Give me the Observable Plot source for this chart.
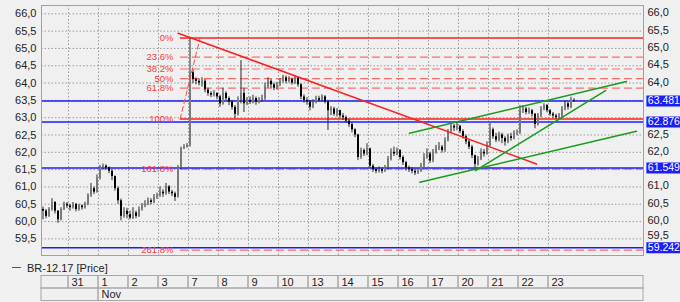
<!DOCTYPE html>
<html><head><meta charset="utf-8">
<script src="https://cdn.jsdelivr.net/npm/d3@7"></script>
<script src="https://cdn.jsdelivr.net/npm/@observablehq/plot@0.6"></script>
<style>
html,body{margin:0;padding:0;background:#f0f0f0;}
body{width:680px;height:302px;overflow:hidden;font-family:"Liberation Sans",Arial,sans-serif;}
#legend{height:15px;font-size:11px;color:#222;padding-left:12px;display:flex;align-items:center;box-sizing:border-box;}
#legend .sw{display:inline-block;width:9px;height:1.5px;background:#555;margin-right:6px;}
svg{display:block}
</style></head><body>
<div id="chart"></div>
<div id="legend"><span class="sw"></span>BR-12.17 [Price]</div>
<div id="strip"></div>
<script>
// ---- data ----
const dayLabels  = ["", "31", "1", "2", "3", "7", "8", "9", "10", "13", "14", "15", "16", "17", "20", "21", "22", "23"];
const barsPerDay = [9, 10, 10, 10, 10, 10, 10, 10, 10, 10, 10, 10, 10, 10, 10, 10, 10, 9];
const monthLabels = ["", "Nov"];
const monthStartDay = [0, 2];

const opens = [
60.35,60.30,60.15,60.35,60.55,60.30,60.05,60.35,60.50,
60.45,60.40,60.50,60.35,60.45,60.40,60.50,60.75,60.95,60.85,
61.25,61.55,61.60,61.55,61.45,61.30,60.95,60.60,60.15,60.30,
60.20,60.10,60.25,60.15,60.35,60.45,60.50,60.60,60.55,60.70,
60.75,60.85,60.80,61.00,60.85,60.80,60.70,61.55,62.10,62.15,
62.20,64.30,64.10,64.05,64.00,64.05,63.80,63.70,63.65,63.70,
63.60,63.40,63.70,63.55,63.45,63.30,63.10,63.50,63.70,63.40,
63.50,63.45,63.55,63.45,63.50,63.55,63.90,64.05,63.95,63.85,
63.95,64.05,64.15,64.05,64.10,64.00,64.15,63.95,63.60,63.50,
63.45,63.30,63.45,63.55,63.50,63.60,63.45,63.20,63.25,63.10,
63.20,63.05,63.00,62.90,62.80,62.65,62.50,61.85,62.05,61.95,
62.10,61.60,61.50,61.45,61.50,61.45,61.55,61.80,62.00,61.95,
62.05,61.85,61.70,61.55,61.50,61.45,61.40,61.45,61.60,61.85,
61.95,61.75,62.00,62.10,62.15,62.05,62.35,62.60,62.75,62.70,
62.75,62.60,62.45,62.30,62.15,61.90,61.65,61.80,62.00,61.95,
62.20,62.65,62.45,62.35,62.50,62.40,62.30,62.45,62.40,62.55,
62.55,63.20,63.25,63.15,63.20,63.10,62.80,63.05,63.25,63.35,
63.20,63.10,63.05,63.00,63.05,63.25,63.40,63.30,63.50];
const highs = [
60.42,60.35,60.40,60.66,60.58,60.32,60.40,60.56,60.55,
60.50,60.55,60.52,60.50,60.48,60.56,60.80,61.10,61.00,61.35,
61.62,61.66,61.64,61.58,61.50,61.32,61.00,60.65,60.40,60.38,
60.30,60.40,60.30,60.42,60.52,60.60,60.68,60.66,60.78,60.82,
61.00,60.92,61.10,61.04,60.90,60.85,61.62,62.15,62.22,62.25,
65.32,64.38,64.15,64.10,64.15,64.10,63.85,63.75,63.78,63.72,
63.65,63.85,63.75,63.60,63.50,63.35,63.60,64.65,63.85,63.58,
63.60,63.65,63.60,63.58,63.65,64.00,64.15,64.10,64.00,64.02,
64.12,64.22,64.20,64.18,64.14,64.22,64.18,63.98,63.66,63.58,
63.50,63.52,63.62,63.62,63.66,63.64,63.50,63.32,63.30,63.26,
63.22,63.12,63.05,62.95,62.85,62.68,62.52,62.12,62.10,62.25,
62.12,61.65,61.55,61.58,61.55,61.62,61.88,62.10,62.15,62.12,
62.08,61.90,61.74,61.60,61.56,61.50,61.52,61.68,61.96,62.10,
62.00,62.08,62.20,62.28,62.20,62.42,62.66,62.82,62.80,62.85,
62.78,62.65,62.50,62.35,62.20,61.92,61.88,62.10,62.08,62.30,
62.83,62.70,62.55,62.58,62.55,62.45,62.52,62.55,62.62,62.65,
63.35,63.35,63.30,63.28,63.24,63.12,63.12,63.32,63.40,63.38,
63.24,63.15,63.10,63.12,63.32,63.48,63.45,63.59,63.55];
const lows = [
60.05,60.08,60.12,60.30,60.22,59.95,60.02,60.32,60.38,
60.30,60.36,60.28,60.30,60.33,60.36,60.46,60.70,60.78,60.82,
61.20,61.48,61.48,61.38,61.18,60.88,60.50,60.02,60.10,60.08,
60.05,60.06,60.08,60.12,60.30,60.40,60.46,60.48,60.52,60.64,
60.70,60.70,60.76,60.78,60.72,60.58,60.68,61.50,62.08,62.12,
62.15,63.98,63.95,63.92,63.88,63.72,63.62,63.58,63.60,63.52,
63.30,63.36,63.48,63.35,63.22,62.97,63.05,63.40,63.15,63.35,
63.38,63.40,63.36,63.40,63.45,63.50,63.85,63.85,63.78,63.80,
63.90,64.00,63.98,64.00,63.94,63.96,63.88,63.52,63.42,63.36,
63.20,63.26,63.40,63.44,63.46,63.40,62.63,63.06,63.04,63.02,
62.98,62.92,62.84,62.72,62.56,62.42,61.76,61.80,61.88,61.90,
61.55,61.42,61.38,61.40,61.38,61.42,61.50,61.75,61.88,61.90,
61.78,61.62,61.46,61.42,61.38,61.33,61.36,61.42,61.56,61.80,
61.68,61.70,61.95,62.05,61.98,62.00,62.30,62.55,62.60,62.62,
62.54,62.38,62.22,62.08,61.82,61.55,61.60,61.76,61.86,61.92,
62.15,62.38,62.28,62.30,62.25,62.18,62.25,62.32,62.36,62.48,
62.52,63.12,63.08,63.10,63.02,62.68,62.76,63.00,63.20,63.14,
63.04,62.98,62.95,62.96,63.00,63.20,63.22,63.26,63.44];
const closes = [
60.30,60.15,60.35,60.55,60.30,60.05,60.35,60.50,60.45,
60.40,60.50,60.35,60.45,60.40,60.50,60.75,60.95,60.85,61.25,
61.55,61.60,61.55,61.45,61.30,60.95,60.60,60.15,60.30,60.20,
60.10,60.25,60.15,60.35,60.45,60.50,60.60,60.55,60.70,60.75,
60.85,60.80,61.00,60.85,60.80,60.70,61.55,62.10,62.15,62.20,
64.30,64.10,64.05,64.00,64.05,63.80,63.70,63.65,63.70,63.60,
63.40,63.70,63.55,63.45,63.30,63.10,63.50,63.70,63.40,63.50,
63.45,63.55,63.45,63.50,63.55,63.90,64.05,63.95,63.85,63.95,
64.05,64.15,64.05,64.10,64.00,64.15,63.95,63.60,63.50,63.45,
63.30,63.45,63.55,63.50,63.60,63.45,63.20,63.25,63.10,63.20,
63.05,63.00,62.90,62.80,62.65,62.50,61.85,62.05,61.95,62.10,
61.60,61.50,61.45,61.50,61.45,61.55,61.80,62.00,61.95,62.05,
61.85,61.70,61.55,61.50,61.45,61.40,61.45,61.60,61.85,61.95,
61.75,62.00,62.10,62.15,62.05,62.35,62.60,62.75,62.70,62.75,
62.60,62.45,62.30,62.15,61.90,61.65,61.80,62.00,61.95,62.20,
62.65,62.45,62.35,62.50,62.40,62.30,62.45,62.40,62.55,62.55,
63.20,63.25,63.15,63.20,63.10,62.80,63.05,63.25,63.35,63.20,
63.10,63.05,63.00,63.05,63.25,63.40,63.30,63.50,63.48];

const yTicks = [59.5, 60.0, 60.5, 61.0, 61.5, 62.0, 62.5, 63.0, 63.5, 64.0, 64.5, 65.0, 65.5, 66.0];
const blueLevels = [63.481, 62.876, 61.549, 59.242];
const fibHigh = 65.30, fibLow = 62.96;
const fibRatios = [0, 23.6, 38.2, 50, 61.8, 100, 161.8, 261.8];
const fibStart = 45.8;       // bar index where the Fibonacci levels begin
const fibDiag = [{i: 45.7, p: 62.96}, {i: 52.4, p: 65.32}];
const redTrend = [{i: 45.07, p: 65.44}, {i: 164.5, p: 61.665}];
const greenUpper = [{i: 122.17, p: 62.549}, {i: 194.5, p: 64.043}];
const greenLower = [{i: 125.6, p: 61.133}, {i: 197.83, p: 62.607}];
const greenSteep = [{i: 144.17, p: 61.471}, {i: 187.5, p: 63.783}];
const xEnd = 200.17;   // right edge of the chart in bar slots
const yDomain = [59.02, 66.24];

// ---- build tables ----
const bars = closes.map((c, i) => ({i, o: opens[i], h: highs[i], l: lows[i], c}));
let acc = 0;
const dayCells = dayLabels.map((lab, k) => {
  const s = acc; acc += barsPerDay[k];
  return {label: lab, x1: s - 0.5, x2: k === dayLabels.length - 1 ? xEnd : acc - 0.5};
});
const boundaries = dayCells.slice(1).map(d => d.x1);
const monthCells = monthLabels.map((lab, k) => ({
  label: lab,
  x1: dayCells[monthStartDay[k]].x1,
  x2: k === monthLabels.length - 1 ? xEnd : dayCells[monthStartDay[k + 1]].x1
}));
const fibs = fibRatios.map(r => ({r, label: (r === 0 ? "0" : String(r)) + "%", p: fibHigh - (fibHigh - fibLow) * r / 100}));
const fmt = v => d3.format(".1f")(v).replace(".", ",");
// right-hand ticks: those hidden behind the blue value boxes are left out, a close one is nudged up
const rightTicks = yTicks.filter(t => blueLevels.every(b => Math.abs(t - b) > 0.3));
const rightTicksNear = yTicks.filter(t => blueLevels.some(b => Math.abs(t - b) > 0.2 && Math.abs(t - b) <= 0.3));

const RED = "#ff1f1f", BLUE = "#1c1cff", GREEN = "#1c9a1c";
const font = '"Liberation Sans", Arial, sans-serif';

const chart = Plot.plot({
  width: 680, height: 260,
  marginTop: 5, marginBottom: 5, marginLeft: 41, marginRight: 37,
  style: {background: "transparent", fontFamily: font, fontSize: "11px", color: "#222", overflow: "visible"},
  x: {domain: [-0.5, xEnd], axis: null},
  y: {domain: yDomain, axis: null},
  marks: [
    Plot.ruleY(yTicks, {stroke: "#9a9a9a", strokeDasharray: "1.5,2", strokeWidth: 1}),
    Plot.ruleX(boundaries, {stroke: "#9a9a9a", strokeDasharray: "1.5,2", strokeWidth: 1}),
    Plot.ruleY(fibs.filter(d => d.r !== 0 && d.r !== 100), {y: "p", x1: fibStart, x2: xEnd, stroke: "#ff6a6a", strokeDasharray: "8,4", strokeWidth: 1.2}),
    Plot.ruleY(blueLevels, {x1: -0.5, x2: xEnd, stroke: BLUE, strokeWidth: 1.6}),
    Plot.ruleY(fibs.filter(d => d.r === 0 || d.r === 100), {y: "p", x1: fibStart, x2: xEnd, stroke: RED, strokeWidth: 1.6}),
    Plot.ruleX(bars, {x: "i", y1: "l", y2: "h", stroke: "#2a2a2a", strokeWidth: 1}),
    Plot.ruleX(bars, {x: "i", y1: "o", y2: "c", stroke: d => d.c >= d.o ? "#7a7a7a" : "#000", strokeWidth: 2}),
    Plot.line(fibDiag, {x: "i", y: "p", stroke: "#ff5050", strokeDasharray: "5,3", strokeWidth: 1}),
    Plot.line(redTrend, {x: "i", y: "p", stroke: RED, strokeWidth: 1.6}),
    Plot.line(greenUpper, {x: "i", y: "p", stroke: GREEN, strokeWidth: 1.5}),
    Plot.line(greenLower, {x: "i", y: "p", stroke: GREEN, strokeWidth: 1.5}),
    Plot.line(greenSteep, {x: "i", y: "p", stroke: GREEN, strokeWidth: 1.5}),
    Plot.text(fibs, {x: 43.5, y: "p", text: "label", textAnchor: "end", fill: "#ff3a3a", fontSize: 9.5}),
    Plot.axisY({anchor: "left", ticks: yTicks, tickSize: 0, tickPadding: 5, tickFormat: fmt, label: null, fill: "#222"}),
    Plot.axisY({anchor: "right", ticks: rightTicks, tickSize: 0, tickPadding: 4, tickFormat: fmt, label: null, fill: "#222", dy: -1}),
    Plot.axisY({anchor: "right", ticks: rightTicksNear, tickSize: 0, tickPadding: 4, tickFormat: fmt, label: null, fill: "#222", dy: -3}),
    Plot.ruleY(blueLevels, {x1: 201.3, x2: 213, stroke: BLUE, strokeWidth: 11}),
    Plot.text(blueLevels, {x: 201.6, y: d => d, text: d => d.toFixed(3), textAnchor: "start", fill: "white", fontSize: 10.5}),
    Plot.frame({stroke: "#a0a0a0"})
  ]
});
document.getElementById("chart").append(chart);

const strip = Plot.plot({
  width: 680, height: 27,
  marginTop: 0.5, marginBottom: 1.5, marginLeft: 41, marginRight: 37,
  style: {background: "transparent", fontFamily: font, fontSize: "11px", color: "#222", overflow: "visible"},
  x: {domain: [-0.5, xEnd], axis: null},
  y: {domain: [0, 2], reverse: true, axis: null},
  marks: [
    Plot.rect(dayCells, {x1: "x1", x2: "x2", y1: 0, y2: 1, stroke: "#a8a8a8", fill: "none"}),
    Plot.rect(monthCells, {x1: "x1", x2: "x2", y1: 1, y2: 2, stroke: "#a8a8a8", fill: "none"}),
    Plot.text(dayCells, {x: "x1", y: 0.5, text: "label", textAnchor: "start", dx: 3, fill: "#222"}),
    Plot.text(monthCells, {x: "x1", y: 1.5, text: "label", textAnchor: "start", dx: 3, fill: "#222"})
  ]
});
document.getElementById("strip").append(strip);
</script></body></html>
